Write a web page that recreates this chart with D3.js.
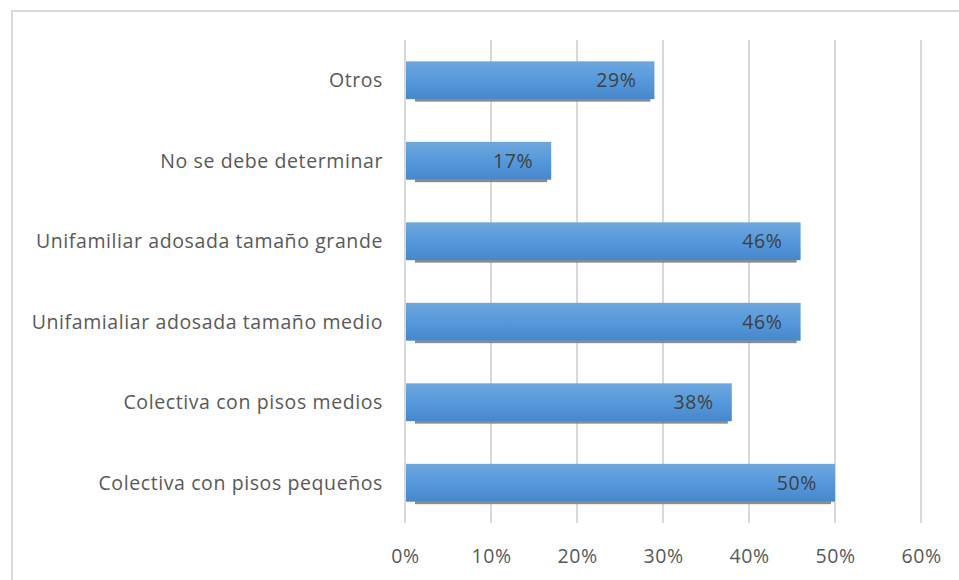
<!DOCTYPE html>
<html>
<head>
<meta charset="utf-8">
<script src="https://cdn.jsdelivr.net/npm/d3@7"></script>
<style>
  html, body { margin: 0; padding: 0; background: #fff; }
  svg { display: block; }
  text { font-family: "Open Sans", Lato, sans-serif; letter-spacing: 0.6px; }
</style>
</head>
<body>
<svg id="chart" width="959" height="580"></svg>
<script>
// Categories from top to bottom, with their share of responses
const categories = [
  "Otros",
  "No se debe determinar",
  "Unifamiliar adosada tamaño grande",
  "Unifamialiar adosada tamaño medio",
  "Colectiva con pisos medios",
  "Colectiva con pisos pequeños"
];
const values = [0.29, 0.17, 0.46, 0.46, 0.38, 0.50];
const tickValues = [0, 0.1, 0.2, 0.3, 0.4, 0.5, 0.6];

const svg = d3.select("#chart");
const W = 959, H = 580;
const FS = 19.5;

// Chart frame
svg.append("rect")
  .attr("x", 12).attr("y", 11)
  .attr("width", W + 10).attr("height", H + 10)
  .attr("fill", "#fff")
  .attr("stroke", "#d9d9d9").attr("stroke-width", 2);

const x = d3.scaleLinear().domain([0, 0.6]).range([405, 921]);
const y = d3.scaleBand().domain(categories).range([40, 523]).paddingInner(0.53).paddingOuter(0.265);

// Bar gradient
const defs = svg.append("defs");
const grad = defs.append("linearGradient").attr("id", "barGrad")
  .attr("x1", 0).attr("y1", 0).attr("x2", 0).attr("y2", 1);
grad.append("stop").attr("offset", "0%").attr("stop-color", "#6fa7dc");
grad.append("stop").attr("offset", "50%").attr("stop-color", "#5599dc");
grad.append("stop").attr("offset", "100%").attr("stop-color", "#4787cb");

// Vertical gridlines
svg.append("g").selectAll("line")
  .data(tickValues)
  .join("line")
  .attr("x1", d => x(d)).attr("x2", d => x(d))
  .attr("y1", 40).attr("y2", 523)
  .attr("stroke", "#d9d9d9").attr("stroke-width", 2);

// Bar shadows
svg.append("g").selectAll("rect")
  .data(values)
  .join("rect")
  .attr("x", (d) => x(0) + 10)
  .attr("y", (d, i) => y(categories[i]) + y.bandwidth() - 0.5)
  .attr("width", d => Math.max(0, x(d) - x(0) - 14))
  .attr("height", 3)
  .attr("fill", "#7f7f7f")
  .attr("opacity", 0.9);

// Bars
svg.append("g").selectAll("rect")
  .data(values)
  .join("rect")
  .attr("x", x(0) + 1)
  .attr("y", (d, i) => y(categories[i]))
  .attr("width", d => x(d) - x(0) - 1)
  .attr("height", y.bandwidth())
  .attr("fill", "url(#barGrad)");

// Value labels inside bar ends
svg.append("g").selectAll("text")
  .data(values)
  .join("text")
  .attr("x", d => x(d) - 18)
  .attr("y", (d, i) => y(categories[i]) + y.bandwidth() / 2)
  .attr("dy", "0.36em")
  .attr("text-anchor", "end")
  .attr("font-size", FS)
  .attr("fill", "#404040")
  .text(d => Math.round(d * 100) + "%");

// Category labels
svg.append("g").selectAll("text")
  .data(categories)
  .join("text")
  .attr("x", 383)
  .attr("y", d => y(d) + y.bandwidth() / 2)
  .attr("dy", "0.36em")
  .attr("text-anchor", "end")
  .attr("font-size", FS)
  .attr("fill", "#595959")
  .text(d => d);

// Bottom axis labels
const axis = d3.axisBottom(x).tickValues(tickValues).tickFormat(d3.format(".0%")).tickSize(0).tickPadding(0);
const gAxis = svg.append("g").attr("transform", "translate(0,549)").call(axis);
gAxis.select(".domain").remove();
gAxis.selectAll("text")
  .attr("font-size", FS)
  .attr("fill", "#595959")
  .attr("font-family", "'Open Sans', Lato, sans-serif");
</script>
</body>
</html>
